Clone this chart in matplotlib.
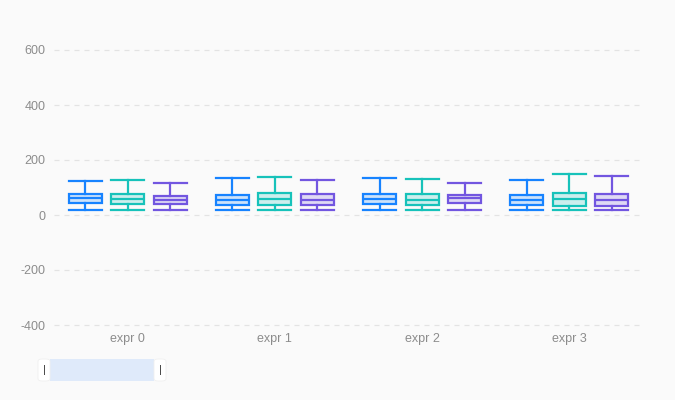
import matplotlib
matplotlib.use("Agg")
import matplotlib.pyplot as plt
from matplotlib.patches import FancyBboxPatch, Rectangle

categories = ["expr 0", "expr 1", "expr 2", "expr 3"]
y_ticks = [-400, -200, 0, 200, 400, 600]

# per-series five-number summaries, one value per category
blue_hi = [124, 133, 133, 126]
blue_q3 = [77, 74, 77, 74]
blue_med = [61, 56, 58, 55]
blue_q1 = [42, 37, 40, 37]
blue_lo = [19, 19, 17, 17]

teal_hi = [128, 137, 132, 149]
teal_q3 = [75, 79, 76, 80]
teal_med = [57, 58, 53, 57]
teal_q1 = [39, 36, 37, 33]
teal_lo = [18, 19, 17, 18]

purple_hi = [115, 127, 115, 143]
purple_q3 = [70, 75, 74, 77]
purple_med = [55, 56, 61, 55]
purple_q1 = [39, 37, 42, 34]
purple_lo = [17, 17, 19, 18]

series = [
    ("#1783FF", blue_lo, blue_q1, blue_med, blue_q3, blue_hi),
    ("#17C2BA", teal_lo, teal_q1, teal_med, teal_q3, teal_hi),
    ("#7256E0", purple_lo, purple_q1, purple_med, purple_q3, purple_hi),
]

BG = "#FAFAFA"
TEXT = "#8C8C8C"

plt.rcParams["font.family"] = ["Liberation Sans", "DejaVu Sans"]

fig = plt.figure(figsize=(6.75, 4), dpi=100, facecolor=BG)
ax = fig.add_axes([54 / 675, 75 / 400, 589 / 675, 275 / 400], facecolor=BG)

offsets = [-0.289, 0.0, 0.289]
box_w = 0.224

for (color, lo, q1, med, q3, hi), off in zip(series, offsets):
    stats = []
    for i in range(len(categories)):
        stats.append({"whislo": lo[i], "q1": q1[i], "med": med[i],
                      "q3": q3[i], "whishi": hi[i]})
    pos = [i + off for i in range(len(categories))]
    ax.bxp(stats, positions=pos, widths=box_w, showfliers=False,
           patch_artist=True, manage_ticks=False,
           boxprops=dict(facecolor=color + "33", edgecolor=color, linewidth=1.6),
           medianprops=dict(color=color, linewidth=1.6),
           whiskerprops=dict(color=color, linewidth=1.6),
           capprops=dict(color=color, linewidth=1.6),
           capwidths=box_w)

ax.set_xlim(-0.5, len(categories) - 0.5)
ax.set_ylim(-400, 600)
ax.set_yticks(y_ticks)
ax.set_yticklabels([str(v) for v in y_ticks])
ax.set_xticks(range(len(categories)))
ax.set_xticklabels(categories)
ax.tick_params(axis="both", length=0, colors=TEXT, labelsize=9)
ax.tick_params(axis="y", pad=6)
ax.tick_params(axis="x", pad=6)
for s in ax.spines.values():
    s.set_visible(False)
ax.yaxis.grid(True, color="#E3E3E3", linestyle=(0, (4, 4)), linewidth=0.9)
for gl in ax.get_ygridlines():
    gl.set_clip_on(False)
ax.set_axisbelow(True)

# slider decoration under the plot
fig.patches.append(Rectangle((50 / 675, 19 / 400), 104 / 675, 22 / 400,
                             transform=fig.transFigure, facecolor="#DFEAFA",
                             edgecolor="none"))
for hx in (38, 154):
    fig.patches.append(FancyBboxPatch((hx / 675, 19 / 400), 12 / 675, 22 / 400,
                                      boxstyle="round,pad=0,rounding_size=0.006",
                                      transform=fig.transFigure, facecolor="white",
                                      edgecolor="#F0F0F0", linewidth=0.6))
    fig.text((hx + 6) / 675, 30 / 400, "|", ha="center", va="center",
             fontsize=8, color="#333333")

fig.savefig("out.png", dpi=100, facecolor=BG)
